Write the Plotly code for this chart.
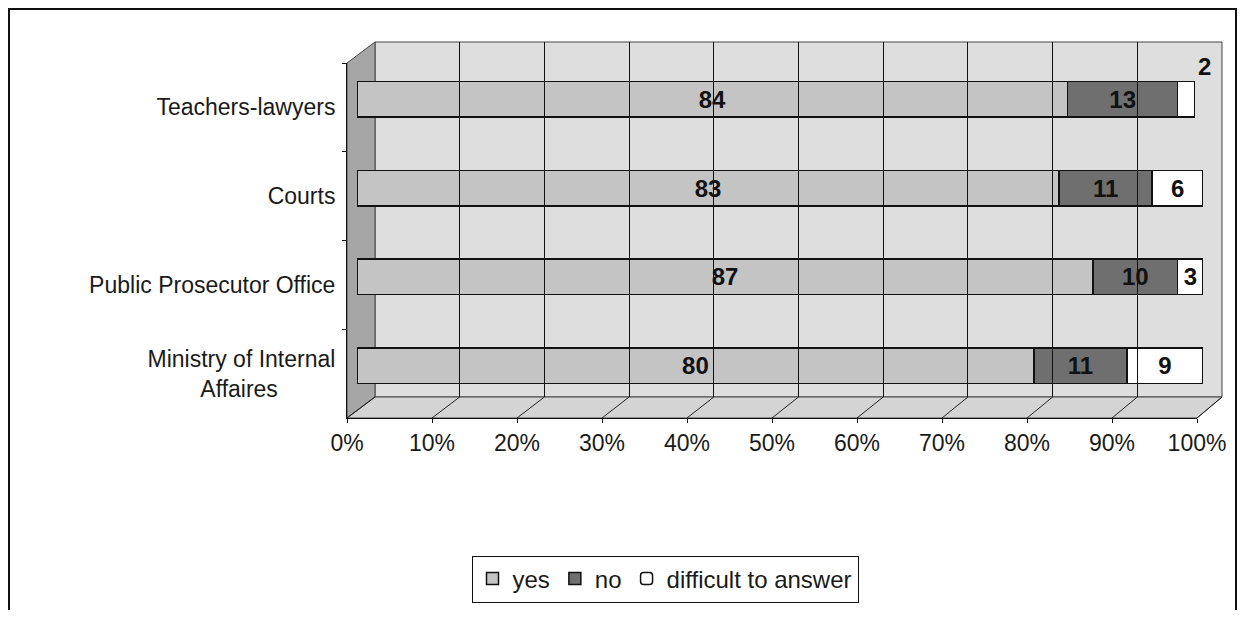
import plotly.graph_objects as go

# ---- data ----
categories = ["Teachers-lawyers", "Courts", "Public Prosecutor Office",
              "Ministry of Internal<br>Affaires" + "\u00a0" * 9]
yes_vals = [84, 83, 87, 80]
no_vals = [13, 11, 10, 11]
diff_vals = [2, 6, 3, 9]
x_ticks = list(range(0, 101, 10))
x_tick_labels = [f"{t}%" for t in x_ticks]

# page body has an 8px margin: size the figure to fit and offset coordinates
OFF = 8
W, H = 1250 - 2 * OFF, 618 - 2 * OFF
def px(x):
    return (x - OFF) / W
def py(y):
    return 1 - (y - OFF) / H

FONT = "Liberation Sans, Arial, sans-serif"
TXT = "#1a1a1a"

# geometry (screen pixels)
BAR_X = (357, 1203); BAR_Y = (55, 410)
FR_X = (347, 1197); FR_Y = (63, 418)
BK_X = (375, 1222); BK_Y = (42, 397)

fig = go.Figure()

series = [("yes", yes_vals, "#c4c4c4", 0), ("no", no_vals, "#6f6f6f", 0),
          ("difficult to answer", diff_vals, "#ffffff", 7)]
for name, vals, col, rad in series:
    texts = [str(v) if v >= 3 else "" for v in vals]
    fig.add_trace(go.Bar(
        name=name, y=categories, x=vals, orientation="h",
        marker=dict(color=col, line=dict(color="#111111", width=1.5), cornerradius=rad),
        text=texts, textposition="inside", insidetextanchor="middle",
        textangle=0, constraintext="none",
        textfont=dict(family=FONT, size=24, color="#111111", weight="bold"),
        width=0.4, xaxis="x", yaxis="y",
    ))

# invisible helper traces to carry front-plane labels and back-wall grid
fig.add_trace(go.Scatter(x=yes_vals, y=categories, mode="none", showlegend=False,
                         hoverinfo="skip", xaxis="x2", yaxis="y2"))
fig.add_trace(go.Scatter(x=[x_ticks[0], x_ticks[-1]], y=[0, 1], mode="none", showlegend=False,
                         hoverinfo="skip", xaxis="x3", yaxis="y3"))

# small value label placed above the bar end (too narrow to fit inside)
for i, v in enumerate(diff_vals):
    if v < 3:
        fig.add_annotation(x=yes_vals[i] + no_vals[i] + v, y=categories[i], xref="x", yref="y",
                           text=f"<b>{v}</b>", showarrow=False, yshift=33, xshift=10,
                           font=dict(family=FONT, size=24, color="#111111"))

shapes = []
# back wall
shapes.append(dict(type="rect", xref="paper", yref="paper", layer="below",
                   x0=px(BK_X[0]), x1=px(BK_X[1]), y0=py(BK_Y[1]), y1=py(BK_Y[0]),
                   fillcolor="#dedede", line=dict(color="#444444", width=1)))
# left side wall
shapes.append(dict(type="path", xref="paper", yref="paper", layer="below",
                   path=f"M {px(FR_X[0])},{py(FR_Y[0])} L {px(BK_X[0])},{py(BK_Y[0])} "
                        f"L {px(BK_X[0])},{py(BK_Y[1])} L {px(FR_X[0])},{py(FR_Y[1])} Z",
                   fillcolor="#a6a6a6", line=dict(color="#444444", width=1)))
# floor
shapes.append(dict(type="path", xref="paper", yref="paper", layer="below",
                   path=f"M {px(FR_X[0])},{py(FR_Y[1])} L {px(BK_X[0])},{py(BK_Y[1])} "
                        f"L {px(BK_X[1])},{py(BK_Y[1])} L {px(FR_X[1])},{py(FR_Y[1])} Z",
                   fillcolor="#d4d4d4", line=dict(color="#444444", width=1)))
# floor diagonals following the gridlines
for t in x_ticks:
    xb = BK_X[0] + (BK_X[1] - BK_X[0]) * t / 100
    xf = FR_X[0] + (FR_X[1] - FR_X[0]) * t / 100
    shapes.append(dict(type="line", xref="paper", yref="paper", layer="below",
                       x0=px(xb), y0=py(BK_Y[1]), x1=px(xf), y1=py(FR_Y[1]),
                       line=dict(color="#222222", width=1)))
# outer frame
shapes.append(dict(type="rect", xref="paper", yref="paper", layer="above",
                   x0=px(9), x1=px(1236), y0=-0.1, y1=py(9),
                   line=dict(color="#111111", width=2), fillcolor="rgba(0,0,0,0)"))

fig.update_layout(
    width=W, height=H, margin=dict(l=0, r=0, t=0, b=0, autoexpand=False),
    paper_bgcolor="white", plot_bgcolor="rgba(0,0,0,0)",
    barmode="stack", bargap=0.6,
    font=dict(family=FONT, size=24, color=TXT),
    uniformtext=dict(minsize=18, mode="show"),
    shapes=shapes,
    xaxis=dict(domain=[px(BAR_X[0]), px(BAR_X[1])], range=[0, 100], anchor="y",
               showgrid=False, showticklabels=False, zeroline=False, automargin=False),
    yaxis=dict(domain=[py(BAR_Y[1]), py(BAR_Y[0])], anchor="x", range=[3.5, -0.5],
               showgrid=False, showticklabels=False, zeroline=False, automargin=False,
               categoryorder="array", categoryarray=categories),
    xaxis2=dict(domain=[px(FR_X[0]), px(FR_X[1])], range=[0, 100], anchor="y2",
                tickvals=x_ticks, ticktext=x_tick_labels, ticks="outside", ticklen=4,
                tickcolor="#111111", showline=True, linecolor="#111111", linewidth=1,
                showgrid=False, zeroline=False, automargin=False,
                tickfont=dict(size=23, color=TXT)),
    yaxis2=dict(domain=[py(FR_Y[1]), py(FR_Y[0])], anchor="x2", range=[3.5, -0.5],
                type="category", categoryorder="array", categoryarray=categories,
                ticks="outside", tickson="boundaries", ticklen=4, tickcolor="#111111",
                showline=True, linecolor="#111111", linewidth=1, showgrid=False,
                automargin=False, ticklabelstandoff=6, tickfont=dict(size=23, color=TXT)),
    xaxis3=dict(domain=[px(BK_X[0]), px(BK_X[1])], range=[0, 100], anchor="y3",
                dtick=10, tick0=0, showgrid=True, gridcolor="#111111", gridwidth=1,
                showticklabels=False, zeroline=False, automargin=False),
    yaxis3=dict(domain=[py(BK_Y[1]), py(BK_Y[0])], anchor="x3", range=[0, 1],
                showgrid=False, showticklabels=False, zeroline=False, automargin=False),
    legend=dict(orientation="h", x=px(665), xanchor="center", y=py(579), yanchor="middle",
                bordercolor="#111111", borderwidth=1, bgcolor="white",
                font=dict(size=24, color=TXT), traceorder="normal"),
)

fig.write_html("out.html")
